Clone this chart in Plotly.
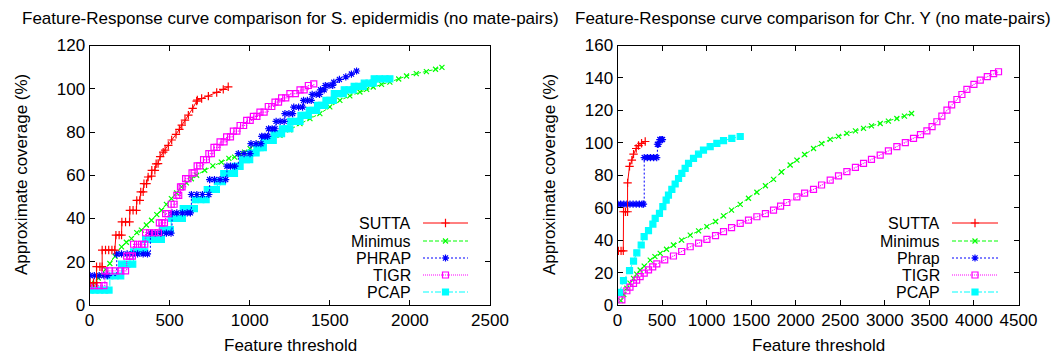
import plotly.graph_objects as go

# ---------------- Left: S. epidermidis ----------------
sutta_l_x = [4, 25, 44, 44, 65, 79, 79, 100, 120, 140, 158, 165, 185, 200, 202, 225, 250, 252, 272, 293, 295, 314,
             320, 335, 340, 356, 366, 387, 389, 408, 416, 428, 441, 460, 472, 492, 513, 540, 561, 576, 596, 617,
             644, 669, 673, 700, 742, 794, 835, 866]
sutta_l_y = [10.3, 10.3, 10.3, 17.7, 17.7, 17.7, 25.4, 25.4, 25.4, 25.4, 25.4, 32.3, 32.3, 32.3, 38.4, 38.4, 38.4,
             43.8, 43.8, 43.8, 48.4, 48.4, 52.3, 52.3, 56.1, 56.1, 59.2, 59.6, 62.3, 62.3, 65.3, 65.4, 68.6, 70.7,
             71.6, 73.8, 76.3, 78.9, 81.2, 83.2, 85.5, 87.8, 90.9, 94.3, 94.8, 95.5, 96.6, 98.3, 99.7, 100.9]

minimus_l_x = [20, 33, 55, 75, 100, 127, 160, 200, 230, 262, 295, 324, 355, 387, 420, 449, 480, 511, 544, 574, 605,
               636, 669, 719, 770, 823, 870, 906, 940, 968, 1002, 1064, 1126, 1189, 1250, 1314, 1376, 1438, 1500,
               1563, 1625, 1688, 1730, 1771, 1823, 1875, 1930, 1979, 2040, 2103, 2160, 2200]
minimus_l_y = [9.5, 10.0, 12.5, 13.8, 16.5, 19.2, 22.5, 26.9, 29.0, 30.7, 33.5, 34.6, 37.0, 39.2, 41.8, 43.8, 46.5,
               49.2, 51.8, 54.6, 56.5, 58.4, 60.0, 62.3, 64.3, 66.1, 67.8, 68.4, 69.8, 70.7, 72.3, 74.6, 76.8, 78.5,
               81.0, 83.9, 86.2, 88.5, 91.6, 94.6, 96.7, 98.5, 99.7, 100.8, 102.0, 103.1, 104.5, 105.9, 107.0,
               107.9, 109.0, 109.9]

phrap_l_x = [4, 30, 60, 90, 112, 170, 200, 235, 270, 300, 335, 362, 380, 410, 445, 480, 509, 515, 545, 580, 610, 630,
             636, 670, 705, 745, 750, 780, 815, 850, 858, 880, 906, 929, 965, 1002, 1008, 1040, 1070, 1075, 1095,
             1112, 1118, 1140, 1158, 1165, 1190, 1215, 1220, 1245, 1268, 1275, 1305, 1330, 1336, 1360, 1384, 1390,
             1415, 1436, 1442, 1465, 1472, 1495, 1518, 1525, 1560, 1600, 1635, 1667]
phrap_l_y = [13.6] * 5 + [23.6] * 7 + [33.2] * 5 + [42.6] * 5 + [51.1] * 4 + [58.0] * 4 + [64.2] * 3 + \
            [70.0] * 3 + [74.6] * 3 + [78.0] * 3 + [81.5] * 3 + [84.9] * 3 + [88.5] * 3 + [91.5] * 3 + \
            [94.6] * 3 + [97.4] * 3 + [99.5] * 2 + [101.5] * 3 + [103.0, 104.3, 105.5, 106.8, 108.2]

tigr_l_x = [4, 30, 60, 90, 96, 125, 160, 195, 225, 232, 252, 268, 275, 300, 325, 345, 350, 375, 405, 430, 436, 452,
            468, 475, 490, 510, 528, 545, 557, 568, 578, 600, 615, 640, 653, 672, 688, 712, 730, 745, 761, 777, 795,
            815, 840, 856, 880, 898, 920, 940, 962, 981, 1003, 1023, 1045, 1064, 1090, 1116, 1138, 1158, 1180, 1199,
            1225, 1251, 1285, 1314, 1340, 1366, 1400, 1430]
tigr_l_y = [9.0] * 4 + [15.8] * 5 + [22.6] * 3 + [28.1] * 4 + [33.4] * 4 + [38.0] * 3 + [42.3] * 2 + [46.6] * 2 + \
           [50.7] * 2 + [54.6] * 2 + [58.4] * 2 + [61.1] * 2 + [64.3] * 2 + [67.2] * 2 + [70.0] * 2 + [72.9] * 2 + \
           [75.4] * 2 + [77.7] * 2 + [80.4] * 2 + [83.0] * 2 + [85.4] * 2 + [87.2] * 2 + [89.2] * 2 + \
           [91.8] * 2 + [93.8] * 2 + [95.8] * 2 + [97.7] * 2 + [99.5] * 2 + [101.5, 102.3]

pcap_l_x = [4, 35, 65, 95, 122, 127, 160, 195, 200, 235, 270, 275, 310, 345, 350, 385, 420, 449, 455, 480, 505, 510,
            545, 580, 585, 620, 655, 660, 695, 728, 735, 765, 792, 798, 830, 838, 870, 905, 910, 940, 955, 980,
            1000, 1005, 1040, 1045, 1065, 1085, 1090, 1120, 1147, 1152, 1175, 1199, 1204, 1228, 1251, 1256, 1285,
            1314, 1320, 1345, 1366, 1372, 1395, 1418, 1424, 1448, 1470, 1476, 1500, 1522, 1528, 1555, 1584, 1590,
            1620, 1646, 1652, 1680, 1709, 1715, 1745, 1771, 1777, 1810, 1845, 1875]
pcap_l_y = [6.9] * 5 + [13.4] * 3 + [18.9] * 3 + [24.6] * 3 + [30.3] * 4 + [34.9] * 3 + [40.0] * 3 + [44.6] * 3 + \
           [48.7] * 3 + [53.4] * 3 + [57.0] * 2 + [60.8] * 3 + [64.1] * 2 + [67.2] * 3 + [70.3] * 2 + \
           [72.8] * 3 + [76.1] * 3 + [79.2] * 3 + [81.5] * 3 + [84.9] * 3 + [87.7] * 3 + [90.0] * 3 + \
           [92.3] * 3 + [94.6] * 3 + [97.7] * 3 + [99.5] * 3 + [101.1] * 3 + [102.6] * 3 + [104.6] * 4

# ---------------- Right: Chr. Y ----------------
sutta_r_x = [10, 40, 65, 68, 90, 113, 113, 135, 161, 180, 210, 236, 270, 311]
sutta_r_y = [33.4, 33.4, 33.4, 57.5, 57.5, 57.5, 75.3, 85.5, 89.3, 93.0, 96.5, 98.3, 99.7, 100.8]

minimus_r_x = [37, 70, 105, 140, 180, 215, 254, 300, 367, 420, 479, 550, 628, 720, 816, 910, 1003, 1100, 1190, 1280,
               1377, 1470, 1564, 1660, 1751, 1840, 1938, 2013, 2100, 2200, 2290, 2387, 2480, 2574, 2670, 2761, 2850,
               2948, 3040, 3135, 3220, 3300]
minimus_r_y = [2.7, 6.5, 10.3, 13.5, 16.4, 19.0, 21.6, 24.0, 27.7, 29.8, 31.8, 34.4, 37.0, 40.0, 43.1, 45.7, 48.3,
               51.5, 55.0, 58.5, 62.0, 65.8, 69.5, 73.5, 77.5, 82.0, 86.3, 89.3, 92.8, 96.5, 99.5, 102.1, 104.0,
               105.8, 107.4, 108.9, 110.4, 111.9, 113.4, 115.0, 116.5, 118.1]

phrap_r_x = [3, 35, 70, 105, 140, 175, 210, 245, 275, 292, 300, 335, 370, 405, 440, 448, 460, 475, 490, 505]
phrap_r_y = [62.2] * 10 + [90.9] * 5 + [99.1] * 2 + [102.0] * 3

tigr_r_x = [49, 105, 140, 180, 215, 254, 300, 348, 395, 441, 530, 628, 720, 816, 910, 1003, 1100, 1190, 1280, 1377,
            1470, 1564, 1660, 1751, 1830, 1900, 2013, 2100, 2200, 2290, 2387, 2480, 2574, 2670, 2761, 2850, 2948,
            3040, 3135, 3230, 3322, 3400, 3472, 3530, 3584, 3640, 3697, 3750, 3809, 3865, 3921, 4000, 4071, 4150,
            4221, 4276]
tigr_r_y = [3.1, 8.8, 11.0, 13.3, 15.3, 17.5, 19.6, 21.6, 23.5, 25.3, 27.8, 30.2, 33.0, 35.9, 38.2, 40.5, 42.8, 45.2,
            47.7, 50.3, 52.3, 54.4, 56.4, 58.5, 61.0, 63.2, 66.7, 69.0, 71.3, 74.0, 77.0, 79.6, 82.2, 84.8, 87.3,
            89.8, 92.4, 95.0, 97.6, 100.1, 102.7, 105.0, 107.4, 110.0, 113.0, 116.5, 120.1, 123.4, 126.7, 129.8,
            132.9, 136.0, 138.6, 140.8, 142.7, 143.8]

pcap_r_x = [22, 67, 135, 180, 217, 266, 299, 348, 397, 423, 471, 509, 546, 572, 610, 647, 685, 722, 759, 797, 853,
            909, 965, 1040, 1115, 1190, 1283, 1377]
pcap_r_y = [7.8, 15.0, 21.2, 27.1, 32.2, 37.0, 42.1, 45.8, 49.9, 53.4, 56.5, 60.6, 64.7, 67.8, 71.3, 74.6, 78.0, 81.1,
            84.2, 87.3, 90.4, 93.0, 95.5, 97.6, 99.6, 101.3, 102.7, 103.9]

left_names = ["SUTTA", "Minimus", "PHRAP", "TIGR", "PCAP"]
right_names = ["SUTTA", "Minimus", "Phrap", "TIGR", "PCAP"]
left_title = "Feature-Response curve comparison for S. epidermidis (no mate-pairs)"
right_title = "Feature-Response curve comparison for Chr. Y (no mate-pairs)"
x_title = "Feature threshold"
y_title = "Approximate coverage (%)"

FONT = "Liberation Sans, Arial, sans-serif"
FS = 17
W, H = 1062, 356

styles = [
    dict(color="#ff0000", dash="solid", symbol="cross-thin-open", size=6, width=1.0, shape="linear"),
    dict(color="#00ff00", dash="4px,2px", symbol="x-thin-open", size=5, width=1.0, shape="linear"),
    dict(color="#0000ff", dash="2px,2px", symbol="asterisk-open", size=6, width=1.0, shape="hv"),
    dict(color="#ff00ff", dash="1px,1px", symbol="square-open", size=6, width=1.2, shape="hv"),
    dict(color="#00ffff", dash="6px,2px,2px,2px", symbol="square", size=6, width=1.0, shape="hv"),
]

fig = go.Figure()

left_series = [(sutta_l_x, sutta_l_y), (minimus_l_x, minimus_l_y), (phrap_l_x, phrap_l_y),
               (tigr_l_x, tigr_l_y), (pcap_l_x, pcap_l_y)]
right_series = [(sutta_r_x, sutta_r_y), (minimus_r_x, minimus_r_y), (phrap_r_x, phrap_r_y),
                (tigr_r_x, tigr_r_y), (pcap_r_x, pcap_r_y)]
right_shapes = ["linear", "linear", "hv", "linear", "linear"]

order = [1, 4, 2, 3, 0]  # draw order (SUTTA on top)
for i in order:
    st = styles[i]
    xs, ys = left_series[i]
    fig.add_trace(go.Scatter(
        x=xs, y=ys, xaxis="x", yaxis="y", mode="lines+markers", showlegend=False,
        line=dict(color=st["color"], dash=st["dash"], width=st["width"], shape=st["shape"]),
        marker=dict(symbol=st["symbol"], size=st["size"], color=st["color"],
                    line=dict(color=st["color"], width=1.2)),
        name=left_names[i]))
for i in order:
    st = styles[i]
    xs, ys = right_series[i]
    fig.add_trace(go.Scatter(
        x=xs, y=ys, xaxis="x2", yaxis="y2", mode="lines+markers", showlegend=False,
        line=dict(color=st["color"], dash=st["dash"], width=st["width"], shape=right_shapes[i]),
        marker=dict(symbol=st["symbol"], size=st["size"], color=st["color"],
                    line=dict(color=st["color"], width=1.2)),
        name=right_names[i]))

# Manual gnuplot-style legends (text left, sample on right) on a pixel overlay axis
legend_rows = [223, 241, 258, 275, 292]
annotations = []
for (text_right, l0, l1, names) in [(412, 423, 468, left_names), (941, 952, 998, right_names)]:
    for i, nm in enumerate(names):
        st = styles[i]
        yy = legend_rows[i]
        fig.add_trace(go.Scatter(
            x=[l0, l1], y=[yy, yy], xaxis="x3", yaxis="y3", mode="lines", showlegend=False,
            line=dict(color=st["color"], dash=st["dash"], width=st["width"]), hoverinfo="skip"))
        fig.add_trace(go.Scatter(
            x=[(l0 + l1) / 2], y=[yy], xaxis="x3", yaxis="y3", mode="markers", showlegend=False,
            marker=dict(symbol=st["symbol"], size=st["size"], color=st["color"],
                        line=dict(color=st["color"], width=1.2)), hoverinfo="skip"))
        annotations.append(dict(x=text_right, y=yy, xref="x3", yref="y3", text=nm, showarrow=False,
                                xanchor="right", yanchor="middle", borderpad=0,
                                font=dict(family=FONT, size=16, color="black")))

txt = dict(showarrow=False, xref="x3", yref="y3", xanchor="center", yanchor="middle",
           font=dict(family=FONT, size=FS, color="black"))
annotations += [
    dict(x=290, y=18, text=left_title, **txt),
    dict(x=813, y=18, text=right_title, **txt),
    dict(x=290, y=345, text=x_title, **txt),
    dict(x=818, y=345, text=x_title, **txt),
    dict(x=21, y=175, text=y_title, textangle=-90, **txt),
    dict(x=549, y=175, text=y_title, textangle=-90, **txt),
]

px = lambda p: p / W
py = lambda p: 1 - p / H

axis_common = dict(showline=True, linecolor="black", linewidth=1, mirror="ticks", ticks="inside", ticklen=5,
                   tickcolor="black", showgrid=False, zeroline=False,
                   tickfont=dict(family=FONT, size=FS, color="black"))

fig.update_layout(
    width=W, height=H, margin=dict(l=0, r=0, t=0, b=0, autoexpand=False),
    paper_bgcolor="white", plot_bgcolor="rgba(0,0,0,0)",
    xaxis=dict(domain=[px(89.5), px(490)], range=[0, 2500], tickvals=[0, 500, 1000, 1500, 2000, 2500],
               anchor="y", **axis_common),
    yaxis=dict(domain=[py(305), py(45.5)], range=[0, 120], tickvals=list(range(0, 121, 20)),
               anchor="x", **axis_common),
    xaxis2=dict(domain=[px(617.5), px(1018.5)], range=[0, 4500], tickvals=list(range(0, 4501, 500)),
                anchor="y2", **axis_common),
    yaxis2=dict(domain=[py(305), py(45.5)], range=[0, 160], tickvals=list(range(0, 161, 20)),
                anchor="x2", **axis_common),
    xaxis3=dict(domain=[0, 1], range=[0, W], visible=False, anchor="y3", fixedrange=True),
    yaxis3=dict(domain=[0, 1], range=[H, 0], visible=False, anchor="x3", fixedrange=True),
    annotations=annotations,
    showlegend=False,
)

fig.write_html("out.html",
               post_script="document.body.style.margin='0';document.body.style.overflow='hidden';")
